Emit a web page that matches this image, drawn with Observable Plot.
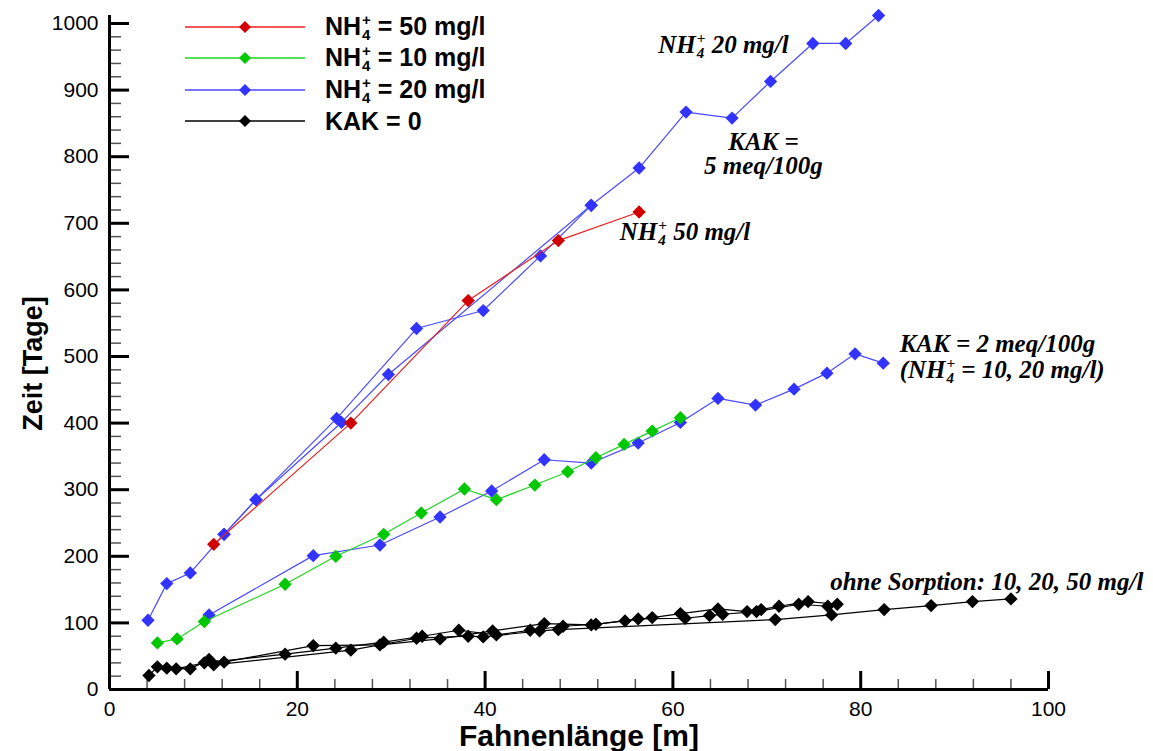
<!DOCTYPE html>
<html>
<head>
<meta charset="utf-8">
<script src="https://cdn.jsdelivr.net/npm/d3@7"></script>
<script src="https://cdn.jsdelivr.net/npm/@observablehq/plot@0.6"></script>
<style>
  body { margin: 0; background: #fff; }
  #wrap { position: relative; width: 1153px; height: 751px; overflow: hidden; background: #fff; }
  .note { position: absolute; font-family: "Liberation Serif", "Times New Roman", serif; font-style: italic;
          font-weight: bold; font-size: 25px; line-height: 24px; white-space: nowrap; color: #000; }
  .legend { position: absolute; left: 185px; top: 11px; font-family: "Liberation Sans", Arial, sans-serif;
            font-weight: bold; font-size: 25px; color: #000; }
  .legend .row { display: flex; align-items: center; height: 31.5px; white-space: nowrap; }
  .legend .row svg { margin-right: 20px; flex: none; }
  .ss { display: inline-block; vertical-align: -0.36em; font-size: 0.6em; line-height: 1em; margin-left: 1px; }
  .ss span { display: block; }
</style>
</head>
<body>
<div id="wrap"></div>
<script>
// Fahnenlänge [m] and Zeit [Tage] for each simulation run

// KAK = 5 meq/100g, NH4+ = 50 mg/l
const kak5_50_x = [11.1, 25.7, 38.2, 47.8, 56.4];
const kak5_50_t = [218, 400, 584, 674, 717];

// KAK = 5 meq/100g, NH4+ = 20 mg/l (two runs)
const kak5_20a_x = [4.1, 6.1, 8.6, 12.2, 15.6, 24.2, 32.7, 39.8, 45.9, 51.3, 56.4, 61.4, 66.3, 70.4, 74.9, 78.4, 81.9];
const kak5_20a_t = [104, 159, 175, 233, 285, 407, 542, 569, 651, 727, 783, 867, 858, 913, 970, 970, 1012];
const kak5_20b_x = [12.2, 15.6, 24.7, 29.7, 51.3];
const kak5_20b_t = [233, 285, 401, 473, 727];

// KAK = 2 meq/100g, NH4+ = 20 mg/l
const kak2_20_x = [10.6, 21.7, 28.8, 35.2, 40.7, 46.3, 51.3, 56.3, 60.8, 64.8, 68.8, 72.9, 76.4, 79.4, 82.4];
const kak2_20_t = [112, 201, 217, 259, 298, 345, 340, 370, 401, 437, 427, 451, 475, 504, 490];

// KAK = 2 meq/100g, NH4+ = 10 mg/l
const kak2_10_x = [5.1, 7.2, 10.1, 18.7, 24.1, 29.2, 33.2, 37.8, 41.2, 45.3, 48.8, 51.8, 54.8, 57.8, 60.8];
const kak2_10_t = [70, 76, 102, 158, 200, 233, 265, 301, 285, 307, 327, 348, 368, 388, 408];

// KAK = 0 (ohne Sorption), 10 / 20 / 50 mg/l
const kak0_a_x = [4.2, 5.1, 7.1, 10.1, 18.7, 24.1, 29.2, 33.3, 37.2, 41.2, 44.8, 48.3, 51.8, 54.9, 57.8, 60.8, 64.8, 67.9, 69.4, 71.3, 74.4, 77.5];
const kak0_a_t = [21, 34, 31, 40, 53, 62, 71, 80, 89, 82, 89, 95, 98, 103, 108, 114, 121, 117, 120, 125, 132, 128];
const kak0_b_x = [6.1, 8.6, 10.6, 12.2, 21.7, 28.8, 35.2, 40.8, 46.3, 51.3, 56.3, 61.3, 63.9, 65.3, 68.9, 73.4, 76.5];
const kak0_b_t = [32, 31, 45, 41, 66, 67, 76, 88, 99, 97, 106, 107, 111, 113, 117, 128, 125];
const kak0_c_x = [11.1, 25.7, 32.7, 38.2, 39.8, 45.8, 47.8, 70.9, 76.9, 82.5, 87.5, 91.9, 96.0];
const kak0_c_t = [37, 59, 77, 80, 79, 88, 90, 105, 112, 120, 126, 132, 136];

// axis ticks
const xMajor = [0, 20, 40, 60, 80, 100];
const xMinor = d3.range(0, 101, 4).filter(v => v % 20 !== 0);
const yMajor = [0, 100, 200, 300, 400, 500, 600, 700, 800, 900, 1000];
const yMinor = d3.range(0, 1001, 20).filter(v => v % 100 !== 0);

// series drawing order and colours
const series = [
  {xs: kak5_20a_x, ts: kak5_20a_t, line: "#4a4aff", fill: "#3333ff"},
  {xs: kak5_20b_x, ts: kak5_20b_t, line: "#4a4aff", fill: "#3333ff"},
  {xs: kak2_20_x,  ts: kak2_20_t,  line: "#4a4aff", fill: "#3333ff"},
  {xs: kak2_10_x,  ts: kak2_10_t,  line: "#22d422", fill: "#00c800"},
  {xs: kak5_50_x,  ts: kak5_50_t,  line: "#e82020", fill: "#d00000"},
  {xs: kak0_a_x,   ts: kak0_a_t,   line: "#000000", fill: "#000000"},
  {xs: kak0_b_x,   ts: kak0_b_t,   line: "#000000", fill: "#000000"},
  {xs: kak0_c_x,   ts: kak0_c_t,   line: "#000000", fill: "#000000"}
];

const legendItems = [
  {label: "= 50 mg/l", ion: true, line: "#e82020", fill: "#d00000"},
  {label: "= 10 mg/l", ion: true, line: "#22d422", fill: "#00c800"},
  {label: "= 20 mg/l", ion: true, line: "#4a4aff", fill: "#3333ff"},
  {label: "KAK = 0", ion: false, line: "#000000", fill: "#000000"}
];

const W = 1153, H = 751;
const M = {left: 109, right: 105, top: 15, bottom: 62};
const innerW = W - M.left - M.right;
const innerH = H - M.top - M.bottom;

const seriesMarks = series.flatMap(s => {
  const rows = s.xs.map((x, i) => ({x, t: s.ts[i]}));
  return [
    Plot.line(rows, {x: "x", y: "t", stroke: s.line, strokeWidth: 1.2}),
    Plot.dot(rows, {x: "x", y: "t", symbol: "diamond2", r: 6, fill: s.fill, stroke: "none"})
  ];
});

const chart = Plot.plot({
  width: W, height: H,
  marginLeft: M.left, marginRight: M.right, marginTop: M.top, marginBottom: M.bottom,
  x: {domain: [0, 100], axis: null},
  y: {domain: [0, 1012], axis: null},
  style: {fontFamily: "'Liberation Sans', Arial, sans-serif", background: "#fff", overflow: "visible", color: "#000"},
  marks: [
    Plot.tickY(yMinor, {y: d => d, insetRight: innerW - 12, stroke: "#555", strokeWidth: 1.5}),
    Plot.tickY(yMajor, {y: d => d, insetRight: innerW - 20, stroke: "#000", strokeWidth: 3}),
    Plot.tickX(xMinor, {x: d => d, insetTop: innerH - 10, stroke: "#555", strokeWidth: 1.5}),
    Plot.tickX(xMajor, {x: d => d, insetTop: innerH - 18, stroke: "#000", strokeWidth: 3}),
    Plot.ruleX([0], {stroke: "#000", strokeWidth: 3}),
    Plot.ruleY([0], {stroke: "#000", strokeWidth: 3}),
    Plot.text(yMajor, {y: d => d, text: d => `${d}`, frameAnchor: "left", dx: -11, textAnchor: "end", fontSize: 21}),
    Plot.text(xMajor, {x: d => d, text: d => `${d}`, frameAnchor: "bottom", dy: 20, lineAnchor: "middle", fontSize: 21}),
    Plot.text(["Zeit [Tage]"], {frameAnchor: "left", dx: -76, dy: 11, rotate: -90, textAnchor: "middle", fontSize: 27, fontWeight: "bold"}),
    Plot.text(["Fahnenlänge [m]"], {frameAnchor: "bottom", dy: 47, lineAnchor: "middle", fontSize: 30, fontWeight: "bold"}),
    ...seriesMarks
  ]
});

const wrap = document.getElementById("wrap");
wrap.appendChild(chart);

const sx = chart.scale("x"), sy = chart.scale("y");
const ion = `NH<span class="ss"><span>+</span><span>4</span></span>`;

// legend
const legend = d3.select(wrap).append("div").attr("class", "legend");
for (const item of legendItems) {
  const row = legend.append("div").attr("class", "row");
  const svg = row.append("svg").attr("width", 120).attr("height", 16);
  svg.append("line").attr("x1", 0).attr("x2", 120).attr("y1", 8).attr("y2", 8)
    .attr("stroke", item.line).attr("stroke-width", 1.3);
  svg.append("path").attr("d", "M60,2L66,8L60,14L54,8Z").attr("fill", item.fill);
  row.append("span").html(item.ion ? `${ion} ${item.label}` : item.label);
}

// annotations, anchored in data coordinates
const notes = [
  {x: 58.5, y: 966, align: "left", html: `${ion} 20 mg/l`},
  {x: 69.7, y: 803, align: "center", html: `KAK =<br>5 meq/100g`},
  {x: 54.4, y: 684, align: "left", html: `${ion} 50 mg/l`},
  {x: 84.2, y: 496, align: "left", html: `KAK = 2 meq/100g<br>(${ion} = 10, 20 mg/l)`},
  {x: 76.8, y: 161, align: "left", html: `ohne Sorption: 10, 20, 50 mg/l`}
];
for (const n of notes) {
  d3.select(wrap).append("div").attr("class", "note")
    .style("left", `${sx.apply(n.x)}px`).style("top", `${sy.apply(n.y)}px`)
    .style("text-align", n.align)
    .style("transform", n.align === "center" ? "translate(-50%,-50%)" : "translateY(-50%)")
    .html(n.html);
}
</script>
</body>
</html>
